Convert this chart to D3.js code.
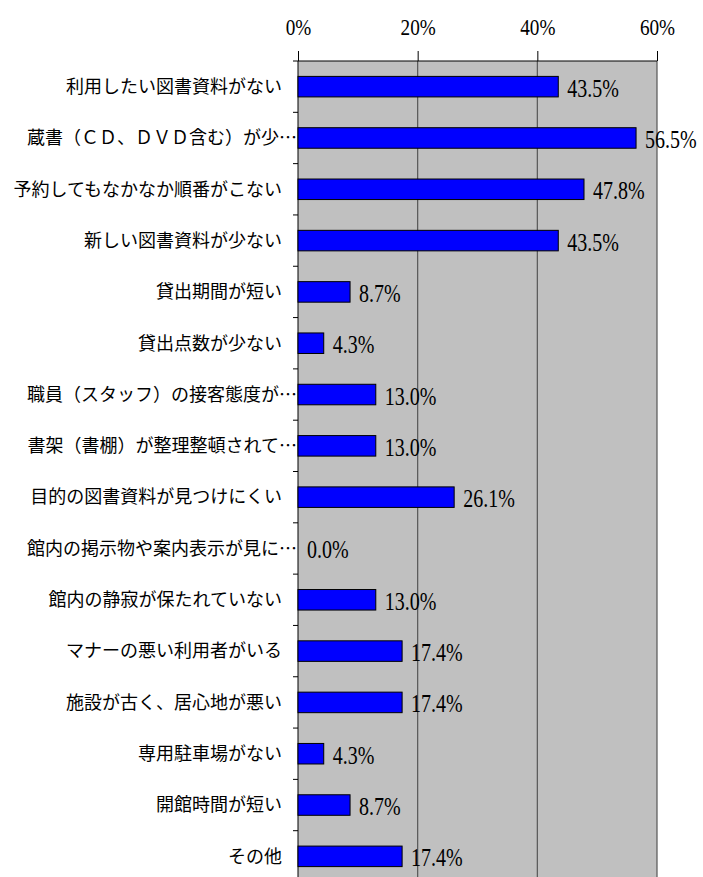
<!DOCTYPE html>
<html>
<head>
<meta charset="utf-8">
<script src="https://cdn.jsdelivr.net/npm/d3@7"></script>
<style>
  body { margin: 0; background: #fff; }
</style>
</head>
<body>
<div id="chart"></div>
<script>
// données
const categories = [
  "利用したい図書資料がない",
  "蔵書（ＣＤ、ＤＶＤ含む）が少…",
  "予約してもなかなか順番がこない",
  "新しい図書資料が少ない",
  "貸出期間が短い",
  "貸出点数が少ない",
  "職員（スタッフ）の接客態度が…",
  "書架（書棚）が整理整頓されて…",
  "目的の図書資料が見つけにくい",
  "館内の掲示物や案内表示が見に…",
  "館内の静寂が保たれていない",
  "マナーの悪い利用者がいる",
  "施設が古く、居心地が悪い",
  "専用駐車場がない",
  "開館時間が短い",
  "その他"
];
const values = [43.5, 56.5, 47.8, 43.5, 8.7, 4.3, 13.0, 13.0, 26.1, 0.0, 13.0, 17.4, 17.4, 4.3, 8.7, 17.4];
const tickValues = [0, 20, 40, 60];

const W = 703, H = 877;
const plotLeft = 298, plotRight = 657, plotTop = 61, plotBottom = 882;
const numFont = "'Liberation Serif', 'DejaVu Serif', serif";
const jpFont = "'Noto Sans CJK JP', sans-serif";

const svg = d3.select("#chart").append("svg")
  .attr("width", W).attr("height", H);

const x = d3.scaleLinear().domain([0, 60]).range([plotLeft, plotRight]);
const y = d3.scaleBand().domain(categories).range([plotTop, plotBottom])
  .paddingInner(0.6).paddingOuter(0.3);
const step = y.step();

// fond gris
svg.append("rect")
  .attr("x", plotLeft).attr("y", plotTop)
  .attr("width", plotRight - plotLeft).attr("height", plotBottom - plotTop)
  .attr("fill", "#c0c0c0");

// grille verticale
svg.append("g").selectAll("line")
  .data(tickValues.slice(1))
  .join("line")
  .attr("x1", d => x(d)).attr("x2", d => x(d))
  .attr("y1", plotTop).attr("y2", plotBottom)
  .attr("stroke", "#555").attr("stroke-width", 1.2);

// axe haut
const axisTop = svg.append("g")
  .attr("transform", `translate(0,${plotTop})`)
  .call(d3.axisTop(x).tickValues(tickValues).tickSize(10).tickPadding(0).tickFormat(d => d + "%"));
axisTop.select(".domain").remove();
axisTop.selectAll(".tick line").attr("stroke", "#000");
axisTop.selectAll(".tick text")
  .attr("font-family", numFont).attr("font-size", 24).attr("fill", "#000")
  .attr("y", -26).attr("x", 0)
  .attr("transform", "scale(0.8,1)");

svg.append("line")
  .attr("x1", plotLeft - 5).attr("x2", plotRight)
  .attr("y1", plotTop).attr("y2", plotTop)
  .attr("stroke", "#000");

// axe gauche
svg.append("line")
  .attr("x1", plotLeft).attr("x2", plotLeft)
  .attr("y1", plotTop).attr("y2", plotBottom)
  .attr("stroke", "#000");
svg.append("g").selectAll("line")
  .data(categories)
  .join("line")
  .attr("x1", plotLeft - 5).attr("x2", plotLeft)
  .attr("y1", d => y(d) - step * 0.3 + step)
  .attr("y2", d => y(d) - step * 0.3 + step)
  .attr("stroke", "#000");

// barres
svg.append("g").selectAll("rect")
  .data(values)
  .join("rect")
  .attr("x", x(0))
  .attr("y", (d, i) => y(categories[i]))
  .attr("width", d => x(d) - x(0))
  .attr("height", y.bandwidth())
  .attr("fill", "#0000ff")
  .attr("stroke", d => d > 0 ? "#000" : "none")
  .attr("stroke-width", 1);

// valeurs
svg.append("g").selectAll("text")
  .data(values)
  .join("text")
  .attr("transform", (d, i) => `translate(${x(d) + 9},${y(categories[i]) + y.bandwidth() / 2 + 10}) scale(0.8,1)`)
  .attr("font-family", numFont).attr("font-size", 25).attr("fill", "#000")
  .text(d => d.toFixed(1) + "%");

// libellés catégories
svg.append("g").selectAll("text")
  .data(categories)
  .join("text")
  .attr("x", d => d.endsWith("…") ? 297 : 282)
  .attr("y", d => y(d) + y.bandwidth() / 2)
  .attr("dy", "0.35em")
  .attr("text-anchor", "end")
  .attr("font-family", jpFont).attr("font-size", 18).attr("fill", "#000")
  .text(d => d);
</script>
</body>
</html>
